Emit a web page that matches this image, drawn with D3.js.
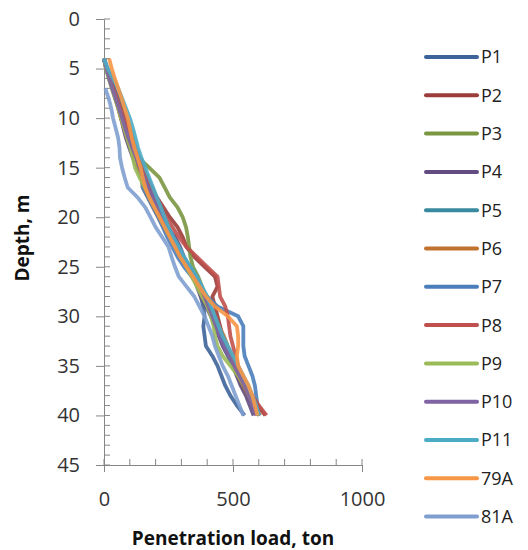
<!DOCTYPE html>
<html><head><meta charset="utf-8">
<script src="https://cdn.jsdelivr.net/npm/d3@7"></script>
<style>body{margin:0;background:#fff}svg{display:block}</style>
</head><body>
<svg id="c" width="528" height="550"></svg>
<script>
const depths = d3.range(4, 41);
const seriesNames = ["P1","P2","P3","P4","P5","P6","P7","P8","P9","P10","P11","79A","81A"];
const seriesColors = ["#3D649A","#9B3D3A","#7A9641","#634C80","#3A8A9F","#C0722F","#4A7EBB","#C0504D","#9BBB59","#7F63A3","#4BACC6","#F79646","#7F9FD0"];
// depth:      4  5  6  7  8  9  10 | 11  12  13  14  15 | 16  17  18  19  20 | 21  22  23  24  25 | 26  27  28  29  30 | 31  32  33  34  35 | 36  37  38  39  40
const P1  = [0,12,25,40,55,68,82, 100,112,118,128,140, 158,170,185,200,215, 235,255,275,300,330, 355,365,375,385,390, 385,390,395,420,440, 455,470,490,515,545];
const P2  = [0,10,22,35,50,62,75, 90,105,120,135,150, 168,185,205,230,255, 285,305,320,350,390, 430,440,420,430,440, 450,460,470,485,500, 520,545,570,595,625];
const P3  = [0,10,22,34,46,58,70, 84,98,112,135,175, 215,235,255,285,305, 318,325,330,335,345, 365,380,395,410,425, 440,455,470,485,500, 515,535,555,575,600];
const P4  = [0,8,20,32,44,56,66, 75,85,98,112,128, 145,162,180,200,220, 245,275,295,310,330, 350,360,375,395,415, 430,445,460,480,500, 515,530,550,565,580];
const P5  = [0,12,25,38,52,65,78, 92,106,120,135,150, 165,180,195,210,225, 242,260,280,300,325, 350,375,395,410,425, 440,455,470,485,500, 520,540,560,580,600];
const P6  = [0,8,20,32,44,55,65, 78,90,105,118,135, 145,150,170,190,210, 230,255,275,295,320, 345,365,385,405,425, 445,465,480,495,505, 520,540,560,580,605];
const P7  = [0,8,20,32,45,58,70, 82,95,110,125,140, 150,150,170,190,210, 228,245,265,285,310, 340,370,400,440,520, 540,540,540,545,560, 575,585,590,595,600];
const P8  = [0,10,22,36,50,64,78, 92,108,122,138,152, 168,182,198,215,240, 265,290,320,360,400, 440,445,450,470,480, 485,490,500,510,520, 535,550,575,600,630];
const P9  = [0,8,18,30,42,55,66, 78,90,102,112,120, 138,158,178,198,218, 238,258,280,300,320, 340,360,380,400,415, 425,430,440,460,490, 520,545,565,580,600];
const P10 = [0,10,20,32,45,58,70, 82,95,110,125,140, 155,172,190,208,225, 245,265,285,305,330, 355,375,390,405,420, 435,450,465,485,505, 525,545,560,575,590];
const P11 = [0,15,35,55,70,85,100, 112,122,132,145,160, 175,190,205,220,235, 250,268,290,310,335, 360,380,400,415,430, 445,460,480,500,520, 540,560,575,590,600];
const S79A = [20,30,42,55,68,80,92, 100,108,118,130,142, 150,160,175,195,215, 235,255,275,295,320, 345,370,395,430,480, 515,520,520,515,520, 540,560,575,585,595];
const S81A = [null,null,null,5,18,28,35, 45,55,60,62,70, 80,92,130,160,180, 200,225,250,262,275, 290,320,350,370,390, 405,420,430,445,460, 480,495,510,525,540];
const seriesValues = [P1,P2,P3,P4,P5,P6,P7,P8,P9,P10,P11,S79A,S81A];
const yTicks = [0,5,10,15,20,25,30,35,40,45];
const xTicks = [0,500,1000];

const svg = d3.select("#c");
const x = d3.scaleLinear().domain([0,1000]).range([104,362]);
const y = d3.scaleLinear().domain([0,45]).range([19,465]);
const axisColor = "#868686";
const font = "'Open Sans', 'Noto Sans', sans-serif";

const g = svg.append("g");
g.selectAll("line.ymin").data(d3.range(0,46)).join("line")
  .attr("x1",104).attr("x2",110).attr("y1",d=>y(d)).attr("y2",d=>y(d))
  .attr("stroke",axisColor).attr("stroke-width",1);
g.selectAll("line.xmin").data(d3.range(0,1001,100)).join("line")
  .attr("x1",d=>x(d)).attr("x2",d=>x(d)).attr("y1",459).attr("y2",465)
  .attr("stroke",axisColor).attr("stroke-width",1);

const yAxis = d3.axisLeft(y).tickValues(yTicks).tickSizeInner(8).tickSizeOuter(0).tickPadding(16);
const ya = svg.append("g").attr("transform","translate(104,0)").call(yAxis);
const xAxis = d3.axisBottom(x).tickValues(xTicks).tickFormat(d3.format("d")).tickSizeInner(7).tickSizeOuter(0);
const xa = svg.append("g").attr("transform","translate(0,465)").call(xAxis);
[ya,xa].forEach(a=>{
  a.select(".domain").attr("stroke",axisColor);
  a.selectAll(".tick line").attr("stroke",axisColor);
  a.selectAll(".tick text").attr("fill","#333").attr("font-size","20px").attr("font-family",font);
});
xa.selectAll(".tick text").attr("y",34).attr("dy","0.36em");

const line = d3.line().defined(d=>d.v!=null).x(d=>x(d.v)).y(d=>y(d.d));
seriesValues.forEach((vals,i)=>{
  svg.append("path")
    .datum(depths.map((d,j)=>({d:d,v:vals[j]})))
    .attr("d",line).attr("fill","none")
    .attr("stroke",seriesColors[i]).attr("stroke-width",3.8)
    .attr("stroke-linejoin","round").attr("stroke-opacity",0.9);
});

svg.append("text").attr("x",233).attr("y",545).attr("text-anchor","middle")
  .attr("font-family",font).attr("font-weight","bold").attr("font-size","19px").attr("fill","#111")
  .text("Penetration load, ton");
svg.append("text").attr("transform","translate(29,238) rotate(-90)").attr("text-anchor","middle")
  .attr("font-family",font).attr("font-weight","bold").attr("font-size","19px").attr("fill","#111")
  .text("Depth, m");

const leg = svg.append("g");
seriesNames.forEach((n,i)=>{
  const yy = 57 + i*38.3;
  leg.append("line").attr("x1",426).attr("x2",477).attr("y1",yy).attr("y2",yy)
    .attr("stroke",seriesColors[i]).attr("stroke-width",4).attr("stroke-linecap","round");
  leg.append("text").attr("x",481).attr("y",yy).attr("dy","0.36em")
    .attr("font-family",font).attr("font-size","18px").attr("fill","#222").text(n);
});
</script>
</body></html>
